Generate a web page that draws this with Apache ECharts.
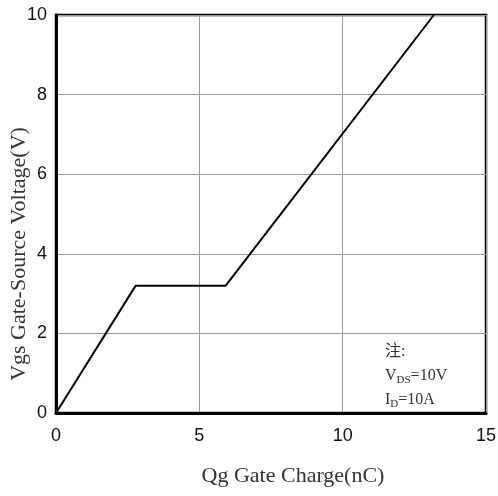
<!DOCTYPE html>
<html><head><meta charset="utf-8">
<script src="https://cdn.jsdelivr.net/npm/echarts@6/dist/echarts.min.js"></script>
<style>html,body{margin:0;padding:0;background:#fff}#c{width:498px;height:496px}</style>
</head><body><div id="c"></div>
<script>
const qg = [0, 2.78, 5.92, 13.18];
const vgs = [0, 3.2, 3.2, 10];
const xTitle = 'Qg Gate Charge(nC)';
const yTitle = 'Vgs Gate-Source Voltage(V)';
const noteLines = ['注:', 'V{s|DS}=10V', 'I{s|D}=10A'];

const chart = echarts.init(document.getElementById('c'));
const tickFont = {fontFamily:'"Liberation Sans Narrow","Arial Narrow","Liberation Sans",sans-serif', fontSize:18, color:'#111'};
const titleFamily = '"Liberation Serif","DejaVu Serif",serif';
chart.setOption({
  animation:false,
  grid:{left:56, right:12, top:15, bottom:83, outerBoundsMode:'none', containLabel:false,
    show:true, borderColor:'#000', borderWidth:2.5, backgroundColor:'transparent'},
  xAxis:{type:'value', min:0, max:15, interval:5,
    name:xTitle, nameLocation:'middle', nameGap:52,
    nameTextStyle:{padding:[0,0,0,44], fontFamily:titleFamily, fontSize:22, color:'#333'},
    axisLine:{show:true, lineStyle:{color:'#000', width:3}},
    axisTick:{show:false},
    axisLabel:Object.assign({margin:14}, tickFont),
    splitLine:{show:true, lineStyle:{color:'#999', width:1}}},
  yAxis:{type:'value', min:0, max:10, interval:2,
    axisLine:{show:true, lineStyle:{color:'#000', width:3}},
    axisTick:{show:false},
    axisLabel:Object.assign({margin:9}, tickFont),
    splitLine:{show:true, lineStyle:{color:'#999', width:1}}},
  series:[{type:'line', data:qg.map((x,i)=>[x, vgs[i]]), symbol:'none',
    lineStyle:{color:'#000', width:2}}],
  graphic:[
    {type:'text', x:19, y:254, rotation:Math.PI/2, style:{
      text:yTitle, font:'22px ' + titleFamily, fill:'#333', align:'center', verticalAlign:'middle'}},
    {type:'text', left:385, top:340, style:{
    text: noteLines.join('\n'),
    font:'16px "Liberation Serif","Noto Sans CJK SC",serif', fill:'#333', lineHeight:24,
    rich:{s:{fontSize:11, fill:'#333', padding:[8,0,0,0], fontFamily:'"Liberation Serif",serif'}}
  }}]
});
</script></body></html>
